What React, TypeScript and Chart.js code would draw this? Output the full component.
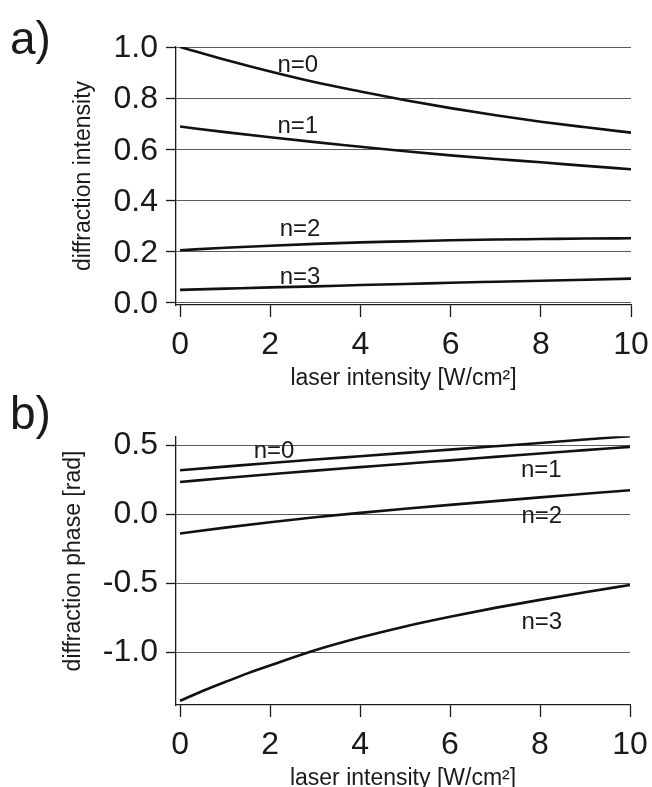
import React, { useEffect, useRef } from "react";
import { Chart, registerables } from "chart.js";

Chart.register(...registerables);

const FONT = "'Liberation Sans', Arial, Helvetica, sans-serif";
const INK = "#1a1a1a";

// ---- shared x axis ----
const laserIntensity = [0, 1, 2, 3, 4, 5, 6, 7, 8, 9, 10];
const laserTicks = [0, 2, 4, 6, 8, 10];

// ---- panel a: diffraction intensity ----
const intensityN0 = [1.0, 0.95, 0.904, 0.862, 0.826, 0.792, 0.761, 0.733, 0.708, 0.686, 0.665];
const intensityN1 = [0.689, 0.667, 0.647, 0.628, 0.61, 0.592, 0.576, 0.562, 0.549, 0.535, 0.522];
const intensityN2 = [0.205, 0.215, 0.223, 0.23, 0.236, 0.24, 0.244, 0.247, 0.249, 0.251, 0.252];
const intensityN3 = [0.05, 0.055, 0.06, 0.064, 0.069, 0.073, 0.078, 0.082, 0.086, 0.09, 0.094];
const intensityTicks = [0, 0.2, 0.4, 0.6, 0.8, 1.0];

// ---- panel b: diffraction phase ----
const phaseN0 = [0.319, 0.345, 0.371, 0.396, 0.42, 0.444, 0.468, 0.492, 0.516, 0.541, 0.565];
const phaseN1 = [0.234, 0.262, 0.289, 0.316, 0.341, 0.366, 0.39, 0.415, 0.44, 0.464, 0.488];
const phaseN2 = [-0.139, -0.097, -0.058, -0.022, 0.01, 0.04, 0.068, 0.095, 0.122, 0.148, 0.174];
const laserIntensityN3 = [0, 0.5, 1, 1.5, 2, 3, 4, 5, 6, 7, 8, 9, 10];
const phaseN3 = [-1.35, -1.28, -1.215, -1.152, -1.095, -0.985, -0.893, -0.812, -0.742, -0.678, -0.62, -0.565, -0.512];
const phaseTicks = [-1.0, -0.5, 0.0, 0.5];

// ---- curve labels (annotation anchors in data units) ----
const labelsA = [
  { text: "n=0", x: 2.61, y: 0.93 },
  { text: "n=1", x: 2.61, y: 0.69 },
  { text: "n=2", x: 2.66, y: 0.288 },
  { text: "n=3", x: 2.66, y: 0.1 },
];
const labelsB = [
  { text: "n=0", x: 2.09, y: 0.457 },
  { text: "n=1", x: 8.03, y: 0.319 },
  { text: "n=2", x: 8.04, y: -0.012 },
  { text: "n=3", x: 8.04, y: -0.781 },
];

const pts = (xs: number[], ys: number[]) => ys.map((y, i) => ({ x: xs[i], y }));

const labelPlugin = {
  id: "curveLabels",
  afterDatasetsDraw(chart: any, _args: any, opts: any) {
    const { ctx } = chart;
    const xs = chart.scales.x;
    const ys = chart.scales.y;
    ctx.save();
    ctx.fillStyle = INK;
    ctx.font = `24px ${FONT}`;
    ctx.textAlign = "center";
    ctx.textBaseline = "middle";
    for (const l of opts.items) {
      ctx.fillText(l.text, xs.getPixelForValue(l.x), ys.getPixelForValue(l.y));
    }
    ctx.font = `46px ${FONT}`;
    ctx.textAlign = "left";
    ctx.textBaseline = "alphabetic";
    ctx.fillText(opts.letter, 10, opts.letterBaseline);
    ctx.restore();
  },
};

function buildConfig(p: any): any {
  return {
    type: "line",
    data: {
      datasets: p.series.map((d: any) => ({
        data: d,
        borderColor: "#111",
        borderWidth: 2.6,
        pointRadius: 0,
        fill: false,
        cubicInterpolationMode: "monotone",
      })),
    },
    plugins: [labelPlugin],
    options: {
      responsive: false,
      animation: false,
      events: [],
      layout: { padding: { left: 0, right: p.padRight, top: p.padTop, bottom: 0 } },
      plugins: {
        legend: { display: false },
        tooltip: { enabled: false },
        curveLabels: { items: p.labels, letter: p.letter, letterBaseline: p.letterBaseline },
      },
      scales: {
        x: {
          type: "linear",
          min: -0.09,
          max: 10,
          afterBuildTicks: (s: any) => {
            s.ticks = laserTicks.map((v) => ({ value: v }));
          },
          afterFit: (s: any) => {
            s.height = 88;
            s.paddingLeft = 0;
            s.paddingRight = 0;
          },
          grid: {
            drawOnChartArea: false,
            drawTicks: true,
            tickLength: 12,
            tickColor: INK,
            tickWidth: 1.3,
          },
          border: { display: true, color: INK, width: 1.3 },
          ticks: {
            font: { family: FONT, size: 32 },
            color: INK,
            padding: 9,
            maxRotation: 0,
            autoSkip: false,
            callback: (v: any) => String(v),
          },
          title: {
            display: true,
            text: "laser intensity [W/cm²]",
            font: { family: FONT, size: 23 },
            color: INK,
            padding: { top: 0, bottom: 0.5 },
          },
        },
        y: {
          type: "linear",
          min: p.yMin,
          max: p.yMax,
          afterBuildTicks: (s: any) => {
            s.ticks = p.yTicks.map((v: number) => ({ value: v }));
          },
          afterFit: (s: any) => {
            s.width = 176;
            s.paddingTop = 0;
            s.paddingBottom = 0;
          },
          grid: {
            color: "#5a5a5a",
            lineWidth: 1,
            drawTicks: true,
            tickLength: 10,
            tickColor: INK,
            tickWidth: 1.3,
          },
          border: { display: true, color: INK, width: 1.3 },
          ticks: {
            font: { family: FONT, size: 32 },
            color: INK,
            padding: 8,
            labelOffset: p.yLabelOffset,
            autoSkip: false,
            callback: (v: any) => Number(v).toFixed(1),
          },
          title: {
            display: true,
            text: p.yTitle,
            font: { family: FONT, size: 23 },
            color: INK,
            padding: { top: p.yTitlePad, bottom: 0 },
          },
        },
      },
    },
  };
}

export default function App() {
  const refA = useRef<HTMLCanvasElement>(null);
  const refB = useRef<HTMLCanvasElement>(null);

  useEffect(() => {
    const a = new Chart(
      refA.current as HTMLCanvasElement,
      buildConfig({
        series: [
          pts(laserIntensity, intensityN0),
          pts(laserIntensity, intensityN1),
          pts(laserIntensity, intensityN2),
          pts(laserIntensity, intensityN3),
        ],
        yMin: -0.009,
        yMax: 1.0,
        yTicks: intensityTicks,
        yTitle: "diffraction intensity",
        yTitlePad: 70,
        yLabelOffset: 1.5,
        padTop: 47,
        padRight: 21,
        labels: labelsA,
        letter: "a)",
        letterBaseline: 54,
      })
    );
    const b = new Chart(
      refB.current as HTMLCanvasElement,
      buildConfig({
        series: [
          pts(laserIntensity, phaseN0),
          pts(laserIntensity, phaseN1),
          pts(laserIntensity, phaseN2),
          pts(laserIntensityN3, phaseN3),
        ],
        yMin: -1.381,
        yMax: 0.565,
        yTicks: phaseTicks,
        yTitle: "\u00a0\u00a0\u00a0diffraction phase [rad]",
        yTitlePad: 60,
        yLabelOffset: 0,
        padTop: 46.2,
        padRight: 22,
        labels: labelsB,
        letter: "b)",
        letterBaseline: 39,
      })
    );
    return () => {
      a.destroy();
      b.destroy();
    };
  }, []);

  return (
    <div
      style={{
        position: "absolute",
        left: 0,
        top: 0,
        width: 652,
        height: 787,
        overflow: "hidden",
        background: "#fff",
      }}
    >
      <canvas
        ref={refA}
        width={652}
        height={393}
        style={{ position: "absolute", left: 0, top: 0, width: 652, height: 393 }}
      />
      <canvas
        ref={refB}
        width={652}
        height={403}
        style={{ position: "absolute", left: 0, top: 390, width: 652, height: 403 }}
      />
    </div>
  );
}
